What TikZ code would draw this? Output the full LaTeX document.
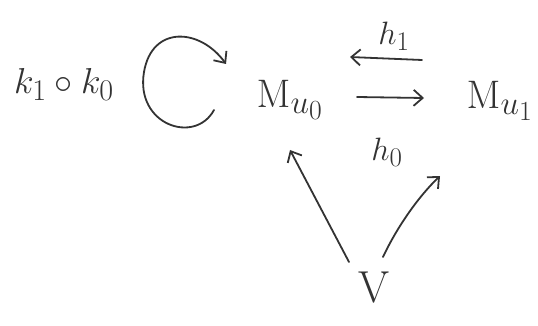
\documentclass[tikz,border=0pt]{standalone}
\usepackage{graphicx}
\usetikzlibrary{arrows.meta}
\newcommand{\bigtxt}[2]{\scalebox{#1}{\fontsize{24.88}{30}\selectfont #2}}
\begin{document}
\begin{tikzpicture}[x=1pt,y=-1pt,
  ink/.style={draw=black!80, line width=1.8pt, line cap=round},
  arr/.style={ink, -{Straight Barb[length=9pt,width=16pt,line width=1.8pt]}},
  lbl/.style={text=black!80, inner sep=0pt}]
\useasboundingbox (0,0) rectangle (538,326);
\node[lbl] (k) at (64,84) {\bigtxt{1.45}{$k_1\circ k_0$}};
\node[lbl] (M0) at (290,100) {\bigtxt{1.6}{$\mathrm{M}_{u_0}$}};
\node[lbl] (M1) at (500,101) {\bigtxt{1.6}{$\mathrm{M}_{u_1}$}};
\node[lbl] (V) at (374,287) {\bigtxt{1.8}{$\mathrm{V}$}};
\node[lbl] (h1) at (394,36) {\bigtxt{1.3}{$h_1$}};
\node[lbl] (h0) at (387,152) {\bigtxt{1.3}{$h_0$}};
% loop arrow
\coordinate (ls) at (214,110);
\coordinate (le) at (226,64);
\draw[arr] (ls) .. controls (195,145) and (135,125) .. (144,72) .. controls (152,25) and (200,28) .. (le);
% h1 and h0
\coordinate (h1s) at (422,60);
\coordinate (h1e) at (350,57);
\draw[arr] (h1s) -- (h1e);
\coordinate (h0s) at (357,97);
\coordinate (h0e) at (424,98);
\draw[arr] (h0s) -- (h0e);
% arrows from V
\coordinate (va) at (349,262);
\coordinate (vat) at (290,150);
\draw[arr] (va) -- (vat);
\coordinate (vb) at (383,257);
\coordinate (vbt) at (440,176);
\draw[arr] (vb) .. controls (398,225) and (420,195) .. (vbt);
\end{tikzpicture}
\end{document}
